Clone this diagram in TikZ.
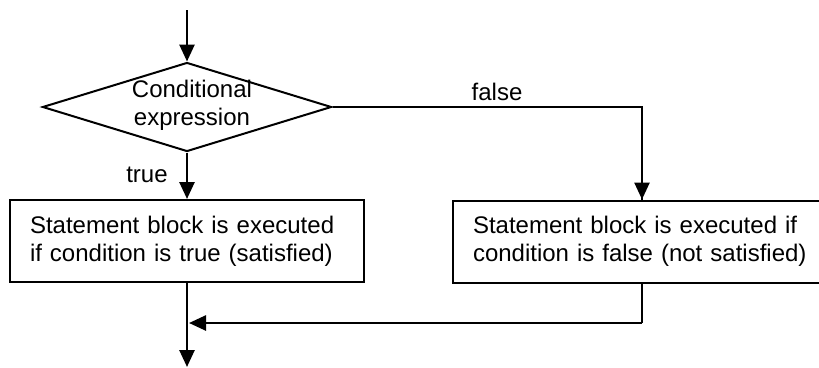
\documentclass[tikz,border=0pt]{standalone}
\usepackage{fontspec}
\setmainfont{Liberation Sans}
\usetikzlibrary{shapes.geometric,arrows.meta}
\begin{document}
\begin{tikzpicture}[x=1pt,y=-1pt,
  txt/.style={font=\fontsize{24}{27.6}\selectfont},
  flow/.style={line width=2.6pt,-{Triangle[length=17pt,width=15pt]}},
  link/.style={line width=2pt},
  decision/.style={draw,line width=2pt,shape=diamond,inner sep=0pt,
    minimum width=289pt,minimum height=89pt},
  stmtbox/.style={draw,line width=2pt,rectangle,txt,align=left,
    inner xsep=20pt,inner ysep=0pt,minimum height=82pt}]
  \useasboundingbox (0,0) rectangle (819,367);
  \clip (0,0) rectangle (819,367);

  % decision
  \node[decision] (dia) at (187,107) {};
  \node[txt,align=center,inner sep=0pt] (cond) at (192,105) {Conditional\\expression};

  % statement blocks
  \node[stmtbox,text width=314pt] (tbox) at (187,241)
    {Statement block is executed\\if condition is true (satisfied)};
  \node[stmtbox,text width=338pt] (fbox) at (642,241.5)
    {Statement block is executed if\\condition is false (not satisfied)};

  % free ends of the flow
  \coordinate (start) at (187,10);
  \coordinate (end) at (187,367);
  \coordinate (join) at (189,323);

  % connectors
  \draw[flow] (start) -- (dia.north);
  \draw[flow] (dia.south) -- (tbox.north);
  \draw[link] (dia.east) -| (fbox.north);
  \draw[flow] (fbox.north |- dia.east) -- (fbox.north);
  \draw[flow] (tbox.south) -- (end);
  \draw[link] (fbox.south) -- (fbox.south |- join);
  \draw[flow] (fbox.south |- join) -- (join);

  % branch labels
  \node[txt,inner sep=0pt] (ltrue) at (147,175) {true};
  \node[txt,inner sep=0pt] (lfalse) at (497,92) {false};
\end{tikzpicture}
\end{document}
